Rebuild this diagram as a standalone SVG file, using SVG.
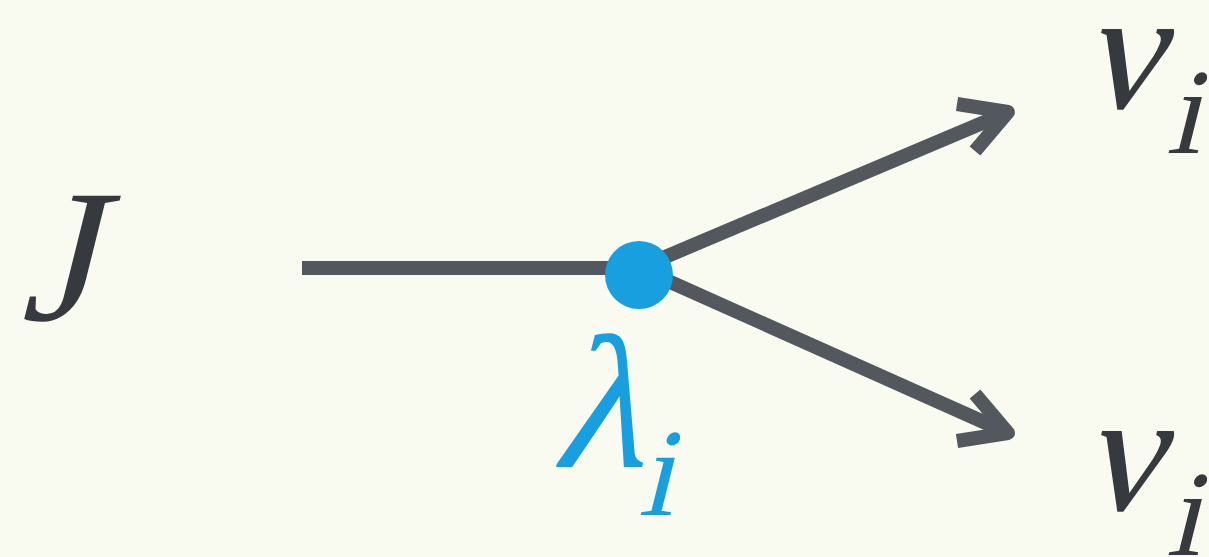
<svg xmlns="http://www.w3.org/2000/svg" width="1209" height="557" viewBox="0 0 1209 557">
<style>
.m{font-family:'Liberation Serif','Times New Roman','DejaVu Serif',serif;font-style:normal;fill:#363a3f}
.b{fill:#189fe0}
.ln{stroke:#53575e;stroke-width:14;fill:none;stroke-linejoin:round}
</style>
<rect width="1209" height="557" fill="#f9fbf1"/>
<g id="connectors">
<line class="ln" x1="302" y1="268" x2="639" y2="268"/>
<path class="ln" d="M639 268 L1006 113"/>
<path class="ln" d="M957 104 L1008 112 L975 151"/>
<path class="ln" d="M639 268 L1006 432"/>
<path class="ln" d="M957 441 L1008 433 L975 394"/>
</g>
<g id="node-J"><text class="m" transform="translate(20 320) skewX(-14)" font-size="190">J</text></g>
<g id="node-lambda">
<circle class="b" cx="639" cy="275" r="34"/>
<text class="m b" transform="translate(551 467) skewX(-14)" font-size="190">λ</text>
<text class="m b" transform="translate(638 515) skewX(-14)" font-size="125">i</text>
</g>
<g id="node-nu-top">
<text class="m" transform="translate(1082 108) skewX(-14)" font-size="172">ν</text>
<text class="m" transform="translate(1166 153) skewX(-14)" font-size="122">i</text>
</g>
<g id="node-nu-bottom">
<text class="m" transform="translate(1082 510) skewX(-14)" font-size="172">ν</text>
<text class="m" transform="translate(1166 555) skewX(-14)" font-size="122">i</text>
</g>
</svg>
